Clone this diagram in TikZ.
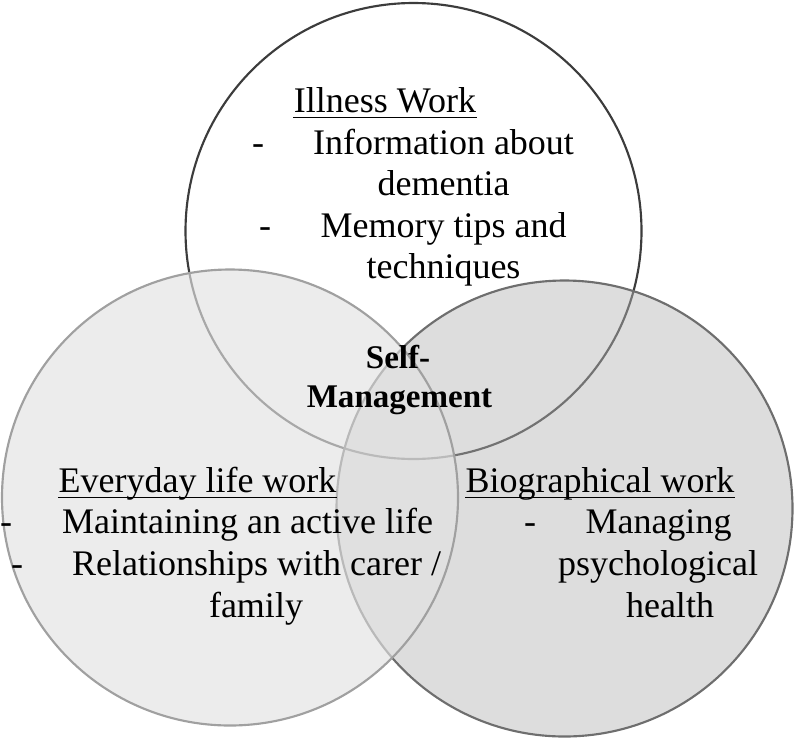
\documentclass[tikz,border=0pt]{standalone}
\usepackage{fontspec}
\setmainfont{Liberation Serif}
\usetikzlibrary{calc}

\tikzset{every picture/.style={line width=0.75pt}}
\tikzset{
  txt/.style={anchor=base,inner sep=0pt,font=\fontsize{27}{31}\selectfont},
  bld/.style={anchor=base,inner sep=0pt,font=\fontsize{24.8}{29}\selectfont\bfseries},
  uline/.style={line width=1.4pt}
}

\begin{document}
\begin{tikzpicture}[x=0.75pt,y=0.75pt,yscale=-1,xscale=1]
\useasboundingbox (0,0) rectangle (796,740);

%Shape: Circle [illness work]
\draw  [color={rgb, 255:red, 60; green, 60; blue, 60 }  ,line width=1.6pt ,fill={rgb, 255:red, 255; green, 255; blue, 255 }  ,fill opacity=1 ] (185.5,231) .. controls (185.5,105.08) and (287.58,3) .. (413.5,3) .. controls (539.42,3) and (641.5,105.08) .. (641.5,231) .. controls (641.5,356.92) and (539.42,459) .. (413.5,459) .. controls (287.58,459) and (185.5,356.92) .. (185.5,231) -- cycle ;
%Shape: Circle [biographical work]
\draw  [color={rgb, 255:red, 110; green, 110; blue, 110 }  ,line width=1.6pt ,fill={rgb, 255:red, 180; green, 180; blue, 180 }  ,fill opacity=0.45 ] (336.5,508.5) .. controls (336.5,382.58) and (438.58,280.5) .. (564.5,280.5) .. controls (690.42,280.5) and (792.5,382.58) .. (792.5,508.5) .. controls (792.5,634.42) and (690.42,736.5) .. (564.5,736.5) .. controls (438.58,736.5) and (336.5,634.42) .. (336.5,508.5) -- cycle ;
%Shape: Circle [everyday life work]
\draw  [color={rgb, 255:red, 160; green, 160; blue, 160 }  ,line width=1.6pt ,fill={rgb, 255:red, 226; green, 226; blue, 226 }  ,fill opacity=0.65 ] (2,497.5) .. controls (2,371.58) and (104.08,269.5) .. (230,269.5) .. controls (355.92,269.5) and (458,371.58) .. (458,497.5) .. controls (458,623.42) and (355.92,725.5) .. (230,725.5) .. controls (104.08,725.5) and (2,623.42) .. (2,497.5) -- cycle ;

% Text: illness work
\node [txt] (illhead) at (385,112) {Illness Work};
\draw [uline] ($(illhead.base west)+(0,5.5)$) -- ($(illhead.base east)+(0,5.5)$);
\node [txt] (dashill1) at (258,154) {-};
\node [txt] (info) at (443.5,154) {Information about};
\node [txt] (dementia) at (443.5,195) {dementia};
\node [txt] (dashill2) at (265,237) {-};
\node [txt] (memory) at (443.5,237) {Memory tips and};
\node [txt] (techn) at (443.5,278) {techniques};

% Text: centre
\node [bld] (self) at (398,368) {Self-};
\node [bld] (mgmt) at (399.5,407) {Management};

% Text: everyday life work
\node [txt] (dayhead) at (197.5,492) {Everyday life work};
\draw [uline] ($(dayhead.base west)+(0,5.5)$) -- ($(dayhead.base east)+(0,5.5)$);
\node [txt] (dashday1) at (6,533) {-};
\node [txt] (active) at (247.5,533) {Maintaining an active life};
\node [txt] (dashday2) at (17,575) {-};
\node [txt] (carer) at (256.5,575) {Relationships with carer /};
\node [txt] (family) at (256,617) {family};

% Text: biographical work
\node [txt] (biohead) at (600,492) {Biographical work};
\draw [uline] ($(biohead.base west)+(0,5.5)$) -- ($(biohead.base east)+(0,5.5)$);
\node [txt] (dashbio) at (530,533) {-};
\node [txt] (managing) at (658.5,533) {Managing};
\node [txt] (psych) at (658,575) {psychological};
\node [txt] (health) at (670,617) {health};
\end{tikzpicture}
\end{document}
